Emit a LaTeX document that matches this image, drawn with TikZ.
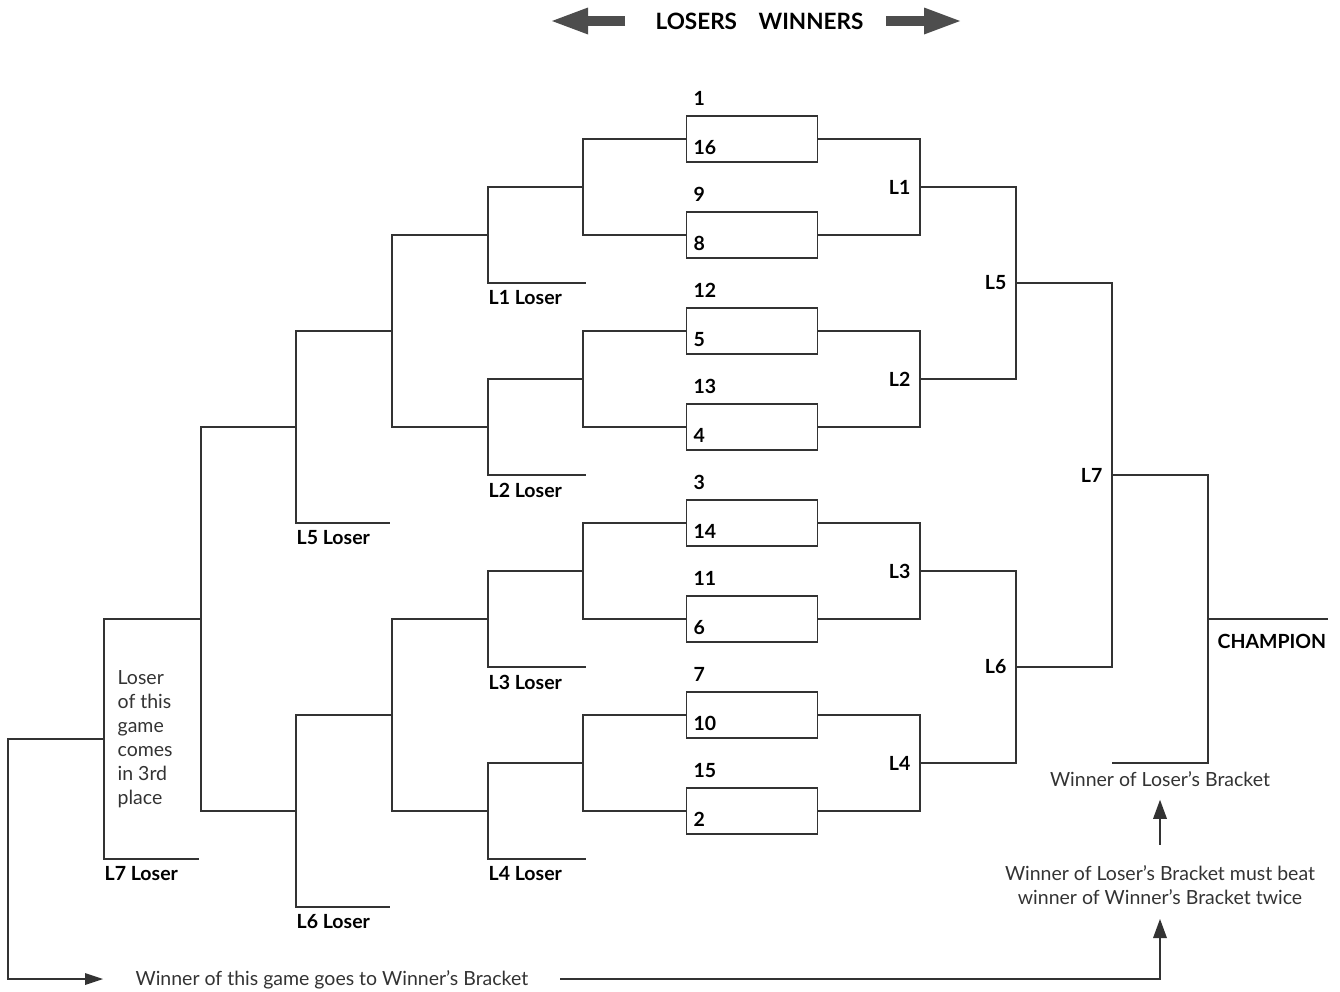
\documentclass[tikz,border=0pt]{standalone}
\usepackage{fontspec}
\setmainfont{Lato}
\usetikzlibrary{arrows.meta}
\definecolor{linegray}{HTML}{333333}
\definecolor{arrowgray}{HTML}{4D4D4D}
\definecolor{notegray}{HTML}{333333}

\begin{document}
\begin{tikzpicture}[x=1pt,y=-1pt,line width=1.3pt,color=linegray]
	\tikzstyle{game}=[draw,rectangle,minimum width=131pt,minimum height=46pt,inner sep=0pt]
	\tikzstyle{num}=[font=\fontsize{19.5}{22}\selectfont\bfseries,inner sep=0pt,text=black]
	\tikzstyle{note}=[font=\fontsize{19.5}{24}\selectfont,inner sep=0pt,text=notegray]
	\tikzstyle{arr}=[-{Triangle[length=19pt,width=14pt,line width=0pt]}]
	\tikzstyle{bigarr}=[arrowgray,line width=10pt,-{Triangle[length=36pt,width=27pt,line width=0pt]}]

	\useasboundingbox (0,0) rectangle (1340,991);

	\node[num,font=\fontsize{22.5}{24}\selectfont\bfseries,anchor=west](losers) at (655,21){LOSERS};
	\node[num,font=\fontsize{22.5}{24}\selectfont\bfseries,anchor=west](winners) at (758,21){WINNERS};
	\draw[bigarr] ([xshift=-30pt]losers.west) -- ([xshift=-103pt]losers.west);
	\draw[bigarr] ([xshift=22pt]winners.east) -- ([xshift=96pt]winners.east);

	\node[game](g1) at (752,139){};
	\node[game](g2) at (752,235){};
	\node[game](g3) at (752,331){};
	\node[game](g4) at (752,427){};
	\node[game](g5) at (752,523){};
	\node[game](g6) at (752,619){};
	\node[game](g7) at (752,715){};
	\node[game](g8) at (752,811){};

	\node[num,anchor=base west](s1a) at ([xshift=7pt,yshift=10pt]g1.north west){1};
	\node[num,anchor=base west](s1b) at ([xshift=7pt,yshift=8pt]g1.south west){16};
	\node[num,anchor=base west](s2a) at ([xshift=7pt,yshift=10pt]g2.north west){9};
	\node[num,anchor=base west](s2b) at ([xshift=7pt,yshift=8pt]g2.south west){8};
	\node[num,anchor=base west](s3a) at ([xshift=7pt,yshift=10pt]g3.north west){12};
	\node[num,anchor=base west](s3b) at ([xshift=7pt,yshift=8pt]g3.south west){5};
	\node[num,anchor=base west](s4a) at ([xshift=7pt,yshift=10pt]g4.north west){13};
	\node[num,anchor=base west](s4b) at ([xshift=7pt,yshift=8pt]g4.south west){4};
	\node[num,anchor=base west](s5a) at ([xshift=7pt,yshift=10pt]g5.north west){3};
	\node[num,anchor=base west](s5b) at ([xshift=7pt,yshift=8pt]g5.south west){14};
	\node[num,anchor=base west](s6a) at ([xshift=7pt,yshift=10pt]g6.north west){11};
	\node[num,anchor=base west](s6b) at ([xshift=7pt,yshift=8pt]g6.south west){6};
	\node[num,anchor=base west](s7a) at ([xshift=7pt,yshift=10pt]g7.north west){7};
	\node[num,anchor=base west](s7b) at ([xshift=7pt,yshift=8pt]g7.south west){10};
	\node[num,anchor=base west](s8a) at ([xshift=7pt,yshift=10pt]g8.north west){15};
	\node[num,anchor=base west](s8b) at ([xshift=7pt,yshift=8pt]g8.south west){2};

	\coordinate(w1) at (920,187);
	\coordinate(w2) at (920,379);
	\coordinate(w3) at (920,571);
	\coordinate(w4) at (920,763);
	\coordinate(w5) at (1016,283);
	\coordinate(w6) at (1016,667);
	\coordinate(w7) at (1112,475);
	\coordinate(fin) at (1208,619);
	\coordinate(champ) at (1328,619);
	\coordinate(lbw) at (1112,763);

	\draw (g1.east) -| (w1) |- (g2.east);
	\draw (g3.east) -| (w2) |- (g4.east);
	\draw (g5.east) -| (w3) |- (g6.east);
	\draw (g7.east) -| (w4) |- (g8.east);
	\draw (w1) -| (w5) |- (w2);
	\draw (w3) -| (w6) |- (w4);
	\draw (w5) -| (w7) |- (w6);
	\draw (w7) -| (fin) |- (lbw);
	\draw (fin) -- (champ);

	\node[num,anchor=east](lw1) at ([xshift=-9pt]w1){L1};
	\node[num,anchor=east](lw2) at ([xshift=-9pt]w2){L2};
	\node[num,anchor=east](lw3) at ([xshift=-9pt]w3){L3};
	\node[num,anchor=east](lw4) at ([xshift=-9pt]w4){L4};
	\node[num,anchor=east](lw5) at ([xshift=-9pt]w5){L5};
	\node[num,anchor=east](lw6) at ([xshift=-9pt]w6){L6};
	\node[num,anchor=east](lw7) at ([xshift=-9pt]w7){L7};
	\node[num,anchor=west](champion) at (1217,641){CHAMPION};

	\coordinate(a1) at (583,187);
	\coordinate(a2) at (583,379);
	\coordinate(a3) at (583,571);
	\coordinate(a4) at (583,763);
	\coordinate(b1) at (488,235);
	\coordinate(b2) at (488,427);
	\coordinate(b3) at (488,619);
	\coordinate(b4) at (488,811);
	\coordinate(e1) at (586,283);
	\coordinate(e2) at (586,475);
	\coordinate(e3) at (586,667);
	\coordinate(e4) at (586,859);
	\coordinate(c1) at (392,331);
	\coordinate(c2) at (392,715);
	\coordinate(d1) at (296,427);
	\coordinate(d2) at (296,811);
	\coordinate(e5) at (390,523);
	\coordinate(e6) at (390,907);
	\coordinate(f1) at (201,619);
	\coordinate(f2) at (104,739);
	\coordinate(e7) at (199,859);
	\coordinate(turn) at (8,979);
	\coordinate(tip) at (103,979);

	\draw (g1.west) -| (a1) |- (g2.west);
	\draw (g3.west) -| (a2) |- (g4.west);
	\draw (g5.west) -| (a3) |- (g6.west);
	\draw (g7.west) -| (a4) |- (g8.west);
	\draw (a1) -| (b1) |- (e1);
	\draw (a2) -| (b2) |- (e2);
	\draw (a3) -| (b3) |- (e3);
	\draw (a4) -| (b4) |- (e4);
	\draw (b1) -| (c1) |- (b2);
	\draw (b3) -| (c2) |- (b4);
	\draw (c1) -| (d1) |- (e5);
	\draw (c2) -| (d2) |- (e6);
	\draw (d1) -| (f1) |- (d2);
	\draw (f1) -| (f2) |- (e7);
	\draw[-{Triangle[length=18pt,width=12pt,line width=0pt]}] (f2) -| (turn) -- (tip);

	\node[num,anchor=west](l1) at (488,298){L1 Loser};
	\node[num,anchor=west](l2) at (488,490){L2 Loser};
	\node[num,anchor=west](l3) at (488,682){L3 Loser};
	\node[num,anchor=west](l4) at (488,874){L4 Loser};
	\node[num,anchor=west](l5) at (296,538){L5 Loser};
	\node[num,anchor=west](l6) at (296,922){L6 Loser};
	\node[num,anchor=west](l7) at (104,874){L7 Loser};

	\node[note,align=left,anchor=north west](third) at (117,670){Loser\\of this\\game\\comes\\in 3rd\\place};
	\node[note,anchor=base west](wtxt) at (135,985){Winner of this game goes to Winner’s Bracket};
	\node[note,anchor=base](wlb) at (1160,786){Winner of Loser’s Bracket};
	\node[note,align=center](beat) at (1160,885){Winner of Loser’s Bracket must beat\\winner of Winner’s Bracket twice};

	\coordinate(start) at (560,979);
	\coordinate(up) at (1160,919);
	\draw[arr] (start) -| (up);
	\draw[arr,shorten <=20pt,shorten >=13pt] (beat.north) -- (wlb.south);

\end{tikzpicture}
\end{document}
